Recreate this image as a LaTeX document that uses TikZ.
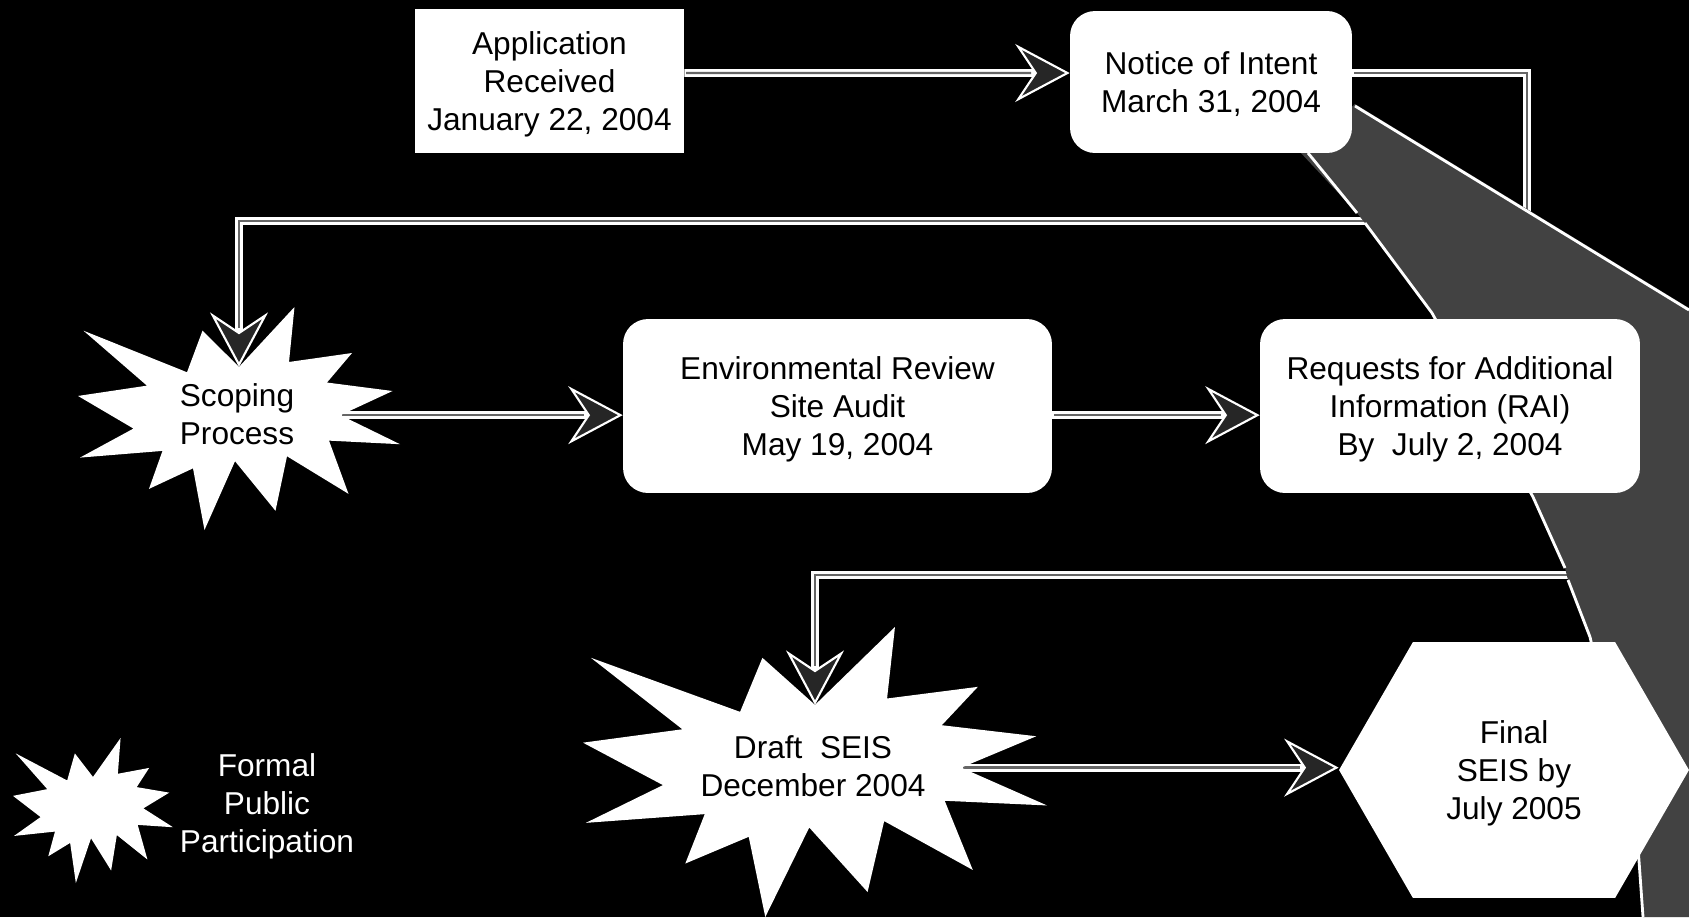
\documentclass[tikz,border=0pt]{standalone}
\usepackage{fontspec}
\setmainfont{Liberation Sans}
\usepackage{tikz}
\usetikzlibrary{arrows.meta}
\usetikzlibrary{shapes.symbols}

\pgfdeclarelayer{back}
\pgfdeclarelayer{band}
\pgfsetlayers{back,band,main}

% explosion outline: name, left, top, width, height
\newcommand\seal[5]{%
  \begin{scope}[shift={(#2,#3)},xscale=#4/216,yscale=#5/216]
    \fill[white] (108,58)--(145.22,0)--(141.55,53.25)--(183.8,44.57)--(167.02,73.15)--(210.97,81.37)
      --(176.07,104.75)--(216,132.9)--(168.37,129.42)--(181.45,180.95)--(140.2,144.57)--(132.47,197.37)
      --(105.32,149.35)--(84.85,216)--(77.15,156.27)--(47.62,176.17)--(56.67,139.37)--(1.35,145.87)
      --(37.22,117.75)--(0,86.15)--(46.27,76.17)--(3.7,22.95)--(73.12,63.2)--(83.52,22.95)--cycle;
    \coordinate (#1in) at (108,58);
    \coordinate (#1out) at (176.07,104.75);
  \end{scope}}

\tikzset{
  lbl/.style={align=center, text=black, inner sep=0pt, font=\fontsize{18pt}{21.6pt}\selectfont},
  box/.style={lbl, fill=white, text depth=0pt},
  rbox/.style={box, rounded corners=0.5cm},
  flow/.style={draw=white, line width=4.4pt,
    -{Stealth[length=31pt,width=33pt,inset=11pt,line width=1.2pt,fill=black!85]},
    postaction={draw=black!60, line width=1.4pt, -, shorten >=22pt, shorten <=1pt}},
}

\begin{document}
\begin{tikzpicture}[x=0.02cm,y=-0.02cm]
                \useasboundingbox (0,0) rectangle (1689,917);
                \begin{pgfonlayer}{back}
                \fill[black] (0,0) rectangle (1689,917);
                \end{pgfonlayer}

                \seal{scope}{78}{307}{322}{223}
                \seal{draft}{583}{627}{464}{290}
                \seal{leg}{13}{738}{160}{145}

                \node[box,minimum width=5.38cm,minimum height=2.88cm] (app) at (549.5,81) {Application\\Received\\January 22, 2004};
                \node[rbox,minimum width=5.64cm,minimum height=2.84cm] (noi) at (1211,82) {Notice of Intent\\March 31, 2004};
                \node[lbl] (scope) at (237,414) {Scoping\\Process};
                \node[rbox,minimum width=8.58cm,minimum height=3.48cm] (er) at (837.5,406) {Environmental Review\\Site Audit\\May 19, 2004};
                \node[rbox,minimum width=7.6cm,minimum height=3.48cm] (rai) at (1450,406) {Requests for Additional\\Information (RAI)\\By~~July 2, 2004};
                \node[lbl] (draft) at (813,766) {Draft~~SEIS\\December 2004};
                \node[box,shape=signal,signal to=west and east,signal pointer angle=120,
                      minimum width=7cm,minimum height=5.12cm] (final) at (1514,770) {Final\\SEIS by\\July 2005};
                \node[lbl,text=white] (leg) at (267,806) {Formal\\Public\\Participation};

                \coordinate (c1) at (1527,221);
                \coordinate (c2) at (1665,575);
                \begin{pgfonlayer}{back}
                \draw[flow] ([yshift=0.16cm]app.east) -- ([yshift=0.18cm]noi.west);
                \draw[flow] ([yshift=0.18cm]noi.east) -| (c1) -| (scopein);
                \draw[flow] (scopeout) -- (scopeout -| er.west);
                \draw[flow] (scopeout -| er.east) -- (scopeout -| rai.west);
                \draw[flow] (rai.east) -| (c2) -| (draftin);
                \draw[flow] (draftout) -- (draftout -| final.west);
                \end{pgfonlayer}

                % fold in the scan
                \begin{pgfonlayer}{band}
                \fill[black!74] (1300,152) -- (1355,104) -- (1689,308) -- (1689,917) -- (1643,917) -- (1638,847)
                    -- (1590,637) -- (1568,580) -- (1565,568) -- (1533,497) -- (1432,313) -- (1365,223) -- (1357,213) -- cycle;
                \draw[white,line width=1.6pt] (1355,106) -- (1689,310);
                \draw[white,line width=1.6pt] (1308,153) -- (1357,213) (1365,223) -- (1432,313) -- (1533,497) -- (1565,568)
                    (1568,580) -- (1590,637) -- (1638,847) -- (1643,917);
                \end{pgfonlayer}
            \end{tikzpicture}
\end{document}
